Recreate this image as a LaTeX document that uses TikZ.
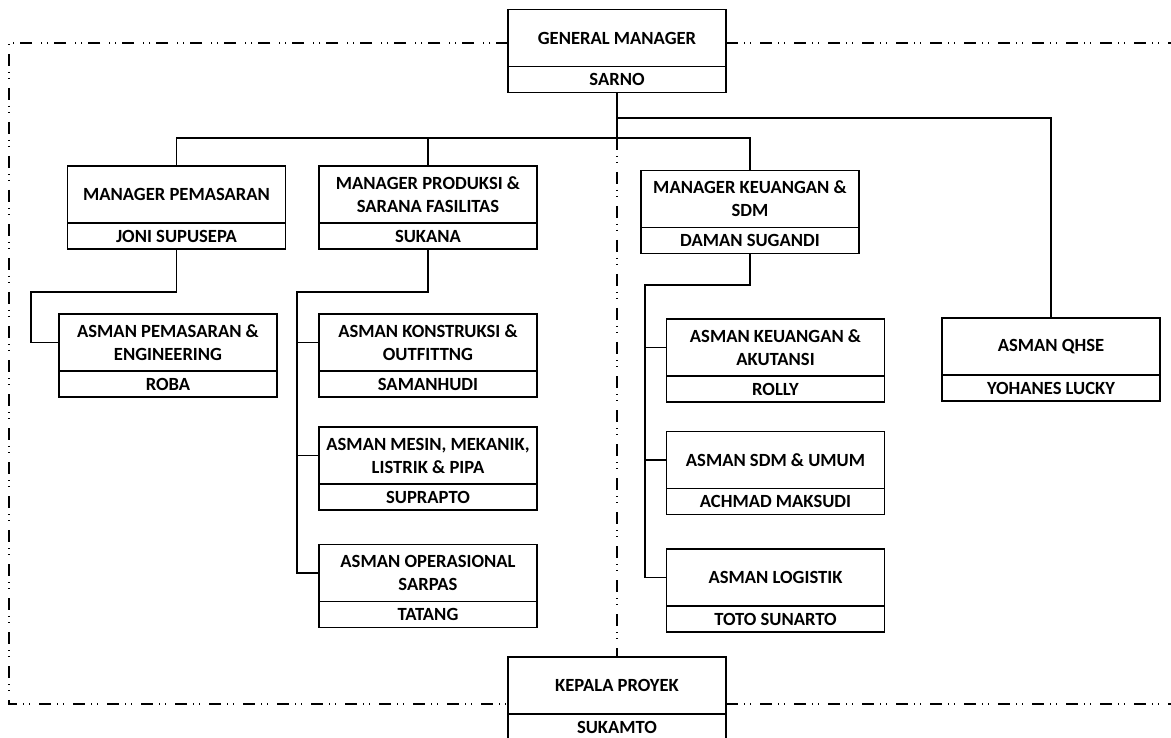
\documentclass[tikz,border=0pt]{standalone}
\usepackage{fontspec}
\setmainfont{Carlito}
\usetikzlibrary{positioning}
\tikzset{
  jabatan/.style={draw, line width=1.3pt, outer sep=0pt, minimum width=218pt, minimum height=57pt,
    inner sep=2pt, align=center, font=\bfseries\fontsize{18.6}{23}\selectfont},
  nama/.style={jabatan, minimum height=26pt},
  garis/.style={line width=1.3pt},
  batas/.style={line width=1.2pt, dash pattern=on 12pt off 6pt on 1pt off 5pt on 1pt off 9pt}
}
\begin{document}
\begin{tikzpicture}[x=1pt,y=-1pt]
  \useasboundingbox (0,0) rectangle (1171,738);
  \clip (0,0) rectangle (1171,738);
  % batas proyek
  \draw[batas] (508,43) -- (9,43) -- (9,704) -- (508,704);
  \draw[batas] (726,43) -- (1171,43);
  \draw[batas] (726,704) -- (1171,704);
  % jabatan
  \node[jabatan] (gm) at (617,38) {GENERAL MANAGER};
  \node[nama, below=0pt of gm] (gmn) {SARNO};
  \node[jabatan] (mpem) at (176.5,194.5) {MANAGER PEMASARAN};
  \node[nama, below=0pt of mpem] (mpemn) {JONI SUPUSEPA};
  \node[jabatan] (mprod) at (428,194.5) {MANAGER PRODUKSI \&\\SARANA FASILITAS};
  \node[nama, below=0pt of mprod] (mprodn) {SUKANA};
  \node[jabatan] (mkeu) at (750,199) {MANAGER KEUANGAN \&\\SDM};
  \node[nama, below=0pt of mkeu] (mkeun) {DAMAN SUGANDI};
  \node[jabatan] (aqhse) at (1051,346.5) {ASMAN QHSE};
  \node[nama, below=0pt of aqhse] (aqhsen) {YOHANES LUCKY};
  \node[jabatan] (apem) at (168,342.5) {ASMAN PEMASARAN \&\\ENGINEERING};
  \node[nama, below=0pt of apem] (apemn) {ROBA};
  \node[jabatan] (akon) at (428,342.5) {ASMAN KONSTRUKSI \&\\OUTFITTNG};
  \node[nama, below=0pt of akon] (akonn) {SAMANHUDI};
  \node[jabatan] (ames) at (428,455.5) {ASMAN MESIN, MEKANIK,\\LISTRIK \& PIPA};
  \node[nama, below=0pt of ames] (amesn) {SUPRAPTO};
  \node[jabatan] (aops) at (428,573) {ASMAN OPERASIONAL\\SARPAS};
  \node[nama, below=0pt of aops] (aopsn) {TATANG};
  \node[jabatan] (akeu) at (775.5,347.5) {ASMAN KEUANGAN \&\\AKUTANSI};
  \node[nama, below=0pt of akeu] (akeun) {ROLLY};
  \node[jabatan] (asdm) at (775.5,460) {ASMAN SDM \& UMUM};
  \node[nama, below=0pt of asdm] (asdmn) {ACHMAD MAKSUDI};
  \node[jabatan] (alog) at (775.5,577.5) {ASMAN LOGISTIK};
  \node[nama, below=0pt of alog] (alogn) {TOTO SUNARTO};
  \node[jabatan] (kp) at (617,685.5) {KEPALA PROYEK};
  \node[nama, below=0pt of kp] (kpn) {SUKAMTO};
  % garis komando
  \coordinate (bus) at (617,138);
  \coordinate (qbus) at (617,118);
  \coordinate (pemx) at (31,292);
  \coordinate (prodx) at (297,292);
  \coordinate (keux) at (645,285);
  \draw[garis] (gmn.south) -- (bus);
  \draw[garis] (mpem.north) |- (bus) -| (mkeu.north);
  \draw[garis] (mprod.north) -- (mprod.north |- bus);
  \draw[garis] (qbus) -| (aqhse.north);
  \draw[garis] (mpemn.south) |- (pemx) |- (apem.west);
  \draw[garis] (mprodn.south) |- (prodx) |- (aops.west);
  \draw[garis] (prodx |- akon.west) -- (akon.west);
  \draw[garis] (prodx |- ames.west) -- (ames.west);
  \draw[garis] (mkeun.south) |- (keux) |- (alog.west);
  \draw[garis] (keux |- akeu.west) -- (akeu.west);
  \draw[garis] (keux |- asdm.west) -- (asdm.west);
  \draw[batas] (bus) -- (kp.north);
\end{tikzpicture}
\end{document}
